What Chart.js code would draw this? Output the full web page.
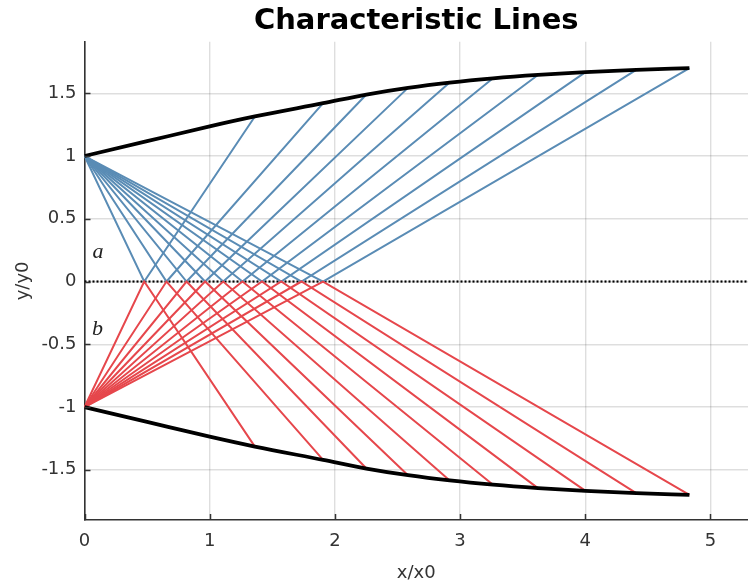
<!DOCTYPE html>
<html>
<head>
<meta charset="utf-8">
<script src="https://cdn.jsdelivr.net/npm/chart.js@4/dist/chart.umd.min.js"></script>
<style>
  html, body { margin: 0; padding: 0; background: #ffffff; }
  #wrap { width: 748px; height: 584px; }
</style>
</head>
<body>
<div id="wrap"><canvas id="chart" width="748" height="584"></canvas></div>
<script>
// Points where the characteristics meet the centre line y = 0
const reflectX = [0.477, 0.655, 0.815, 0.963, 1.108, 1.262, 1.418, 1.572, 1.733, 1.905];

// Points where the reflected characteristics reach the upper wall
const upperWallX = [1.361, 1.906, 2.252, 2.584, 2.917, 3.263, 3.622, 4.002, 4.407, 4.832];
const upperWallY = [1.315, 1.421, 1.490, 1.543, 1.585, 1.619, 1.646, 1.668, 1.686, 1.700];

// ...and the lower wall
const lowerWallX = [1.361, 1.906, 2.252, 2.584, 2.917, 3.263, 3.622, 4.002, 4.407, 4.832];
const lowerWallY = [-1.315, -1.421, -1.490, -1.543, -1.585, -1.619, -1.646, -1.668, -1.686, -1.700];

// Wall contours
const upperContourX = [0, 0.5, 1.0, 1.361, 1.906, 2.252, 2.584, 2.917, 3.263, 3.622, 4.002, 4.407, 4.832];
const upperContourY = [1.0, 1.118, 1.236, 1.315, 1.421, 1.490, 1.543, 1.585, 1.619, 1.646, 1.668, 1.686, 1.700];
const lowerContourX = [0, 0.5, 1.0, 1.361, 1.906, 2.252, 2.584, 2.917, 3.263, 3.622, 4.002, 4.407, 4.832];
const lowerContourY = [-1.0, -1.118, -1.236, -1.315, -1.421, -1.490, -1.543, -1.585, -1.619, -1.646, -1.668, -1.686, -1.700];

// Source points of the two fans
const upperOrigin = [0, 1];
const lowerOrigin = [0, -1];

// Centre line extent
const axisLineX = [0, 5.3];
const axisLineY = [0, 0];

// Tick labels
const xTicks = [0, 1, 2, 3, 4, 5];
const yTicks = [-1.5, -1, -0.5, 0, 0.5, 1, 1.5];

// Region labels
const regionLabels = [
  { text: 'a', x: 0.107, y: 0.19 },
  { text: 'b', x: 0.103, y: -0.425 }
];

const BLUE = '#5a8cb5';
const RED = '#e6474c';

const datasets = [];

// wall contours on top
datasets.push({
  data: upperContourX.map((x, i) => ({ x, y: upperContourY[i] })),
  borderColor: '#000000', borderWidth: 3.8, cubicInterpolationMode: 'monotone', order: 0
});
datasets.push({
  data: lowerContourX.map((x, i) => ({ x, y: lowerContourY[i] })),
  borderColor: '#000000', borderWidth: 3.8, cubicInterpolationMode: 'monotone', order: 0
});

// characteristic lines: origin -> centre line -> wall
reflectX.forEach((rx, i) => {
  datasets.push({
    data: [
      { x: upperOrigin[0], y: upperOrigin[1] },
      { x: rx, y: 0 },
      { x: upperWallX[i], y: upperWallY[i] }
    ],
    borderColor: BLUE, borderWidth: 2, order: 2
  });
});
reflectX.forEach((rx, i) => {
  datasets.push({
    data: [
      { x: lowerOrigin[0], y: lowerOrigin[1] },
      { x: rx, y: 0 },
      { x: lowerWallX[i], y: lowerWallY[i] }
    ],
    borderColor: RED, borderWidth: 2, order: 1
  });
});

// dotted centre line
datasets.push({
  data: axisLineX.map((x, i) => ({ x, y: axisLineY[i] })),
  borderColor: '#000000', borderWidth: 2.2, borderDash: [2, 2], order: 3
});

datasets.forEach(d => { d.showLine = true; d.pointRadius = 0; d.pointHoverRadius = 0; d.fill = false; });

// short inward tick marks plus the italic region labels
const decorations = {
  id: 'decorations',
  afterDatasetsDraw(chart) {
    const ctx = chart.ctx;
    const xs = chart.scales.x, ys = chart.scales.y;
    const area = chart.chartArea;
    ctx.save();
    ctx.strokeStyle = '#333333';
    ctx.lineWidth = 1.5;
    ctx.beginPath();
    xTicks.forEach(v => {
      const px = Math.round(xs.getPixelForValue(v)) + 0.5;
      ctx.moveTo(px, area.bottom);
      ctx.lineTo(px, area.bottom - 6);
    });
    yTicks.forEach(v => {
      const py = Math.round(ys.getPixelForValue(v)) + 0.5;
      ctx.moveTo(area.left, py);
      ctx.lineTo(area.left + 6, py);
    });
    ctx.stroke();

    ctx.fillStyle = '#222222';
    ctx.font = 'italic 22px "Liberation Serif", "DejaVu Serif", serif';
    ctx.textAlign = 'center';
    ctx.textBaseline = 'alphabetic';
    regionLabels.forEach(l => {
      ctx.fillText(l.text, xs.getPixelForValue(l.x), ys.getPixelForValue(l.y));
    });
    ctx.restore();
  }
};

const tickFont = { family: '"DejaVu Sans", Verdana, sans-serif', size: 18 };

new Chart(document.getElementById('chart'), {
  type: 'scatter',
  data: { datasets },
  options: {
    responsive: false,
    animation: false,
    devicePixelRatio: 1,
    layout: { padding: { left: 0, right: 0, top: 0, bottom: 0 } },
    elements: { line: { tension: 0 } },
    plugins: {
      legend: { display: false },
      tooltip: { enabled: false },
      title: {
        display: true,
        text: 'Characteristic Lines',
        color: '#000000',
        fullSize: false,
        font: { family: '"DejaVu Sans", Verdana, sans-serif', size: 29, weight: 'bold', lineHeight: 1.2 },
        padding: { top: 4, bottom: 3 }
      }
    },
    scales: {
      x: {
        type: 'linear',
        min: 0,
        max: 5.3,
        afterFit: s => { s.height = 64; },
        afterBuildTicks: s => { s.ticks = xTicks.map(v => ({ value: v })); },
        grid: { color: 'rgba(0,0,0,0.13)', lineWidth: 1.4, drawTicks: false },
        border: { display: true, color: '#333333', width: 1.6 },
        ticks: { color: '#333333', font: tickFont, padding: 11, maxRotation: 0, callback: v => String(v) },
        title: { display: true, text: 'x/x0', color: '#333333', font: tickFont, padding: { top: 7, bottom: 0 } }
      },
      y: {
        type: 'linear',
        min: -1.9,
        max: 1.91,
        afterFit: s => { s.width = 84.5; },
        afterBuildTicks: s => { s.ticks = yTicks.map(v => ({ value: v })); },
        grid: { color: 'rgba(0,0,0,0.13)', lineWidth: 1.4, drawTicks: false },
        border: { display: true, color: '#333333', width: 1.6 },
        ticks: { color: '#333333', font: tickFont, padding: 8, callback: v => String(v) },
        title: { display: true, text: 'y/y0', color: '#333333', font: tickFont, padding: { top: 13, bottom: 0 } }
      }
    }
  },
  plugins: [decorations]
});
</script>
</body>
</html>
